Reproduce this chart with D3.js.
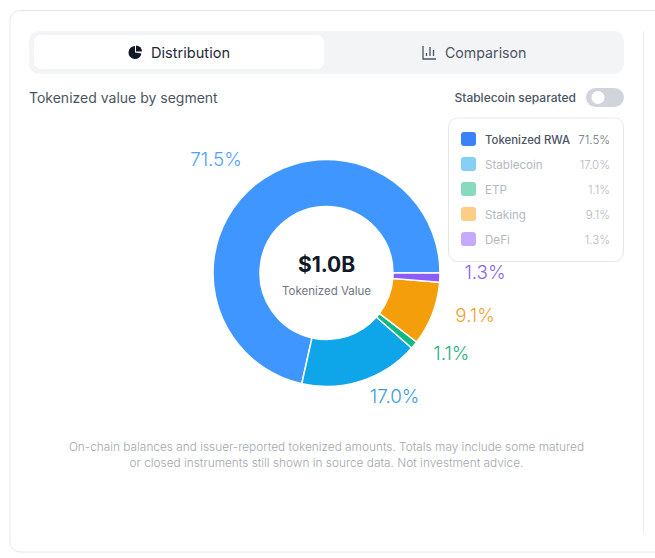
<!DOCTYPE html>
<html>
<head>
<meta charset="utf-8">
<script src="https://cdn.jsdelivr.net/npm/d3@7"></script>
<style>
  html, body { margin: 0; padding: 0; background: #fff; }
  svg { display: block; font-family: Inter, sans-serif; }
</style>
</head>
<body>
<svg id="chart" width="655" height="558"></svg>
<script>
const segments = ['Tokenized RWA', 'Stablecoin', 'ETP', 'Staking', 'DeFi'];
const shares = [71.5, 17.0, 1.1, 9.1, 1.3];
const sliceColors = ['#4096ff', '#0ea5e9', '#10b981', '#f59e0b', '#8b5cf6'];
const labelColors = ['#4f9ffb', '#3a9bd8', '#25b184', '#f0a233', '#8b63ee'];
const swatchColors = ['#3b82f6', '#85d0f4', '#87dabd', '#fbcd85', '#c5aafa'];
const footnote = [
  'On-chain balances and issuer-reported tokenized amounts. Totals may include some matured',
  'or closed instruments still shown in source data. Not investment advice.'
];

const svg = d3.select('#chart');
const fmt = d => d.toFixed(1) + '%';

// Page frame
svg.append('rect').attr('x', 10).attr('y', 10.5).attr('width', 700).attr('height', 541.5)
  .attr('rx', 10).attr('fill', '#fff').attr('stroke', '#e7e8ea');
svg.append('line').attr('x1', 643.5).attr('x2', 643.5).attr('y1', 31).attr('y2', 534)
  .attr('stroke', '#eceef0');

// Tabs
svg.append('rect').attr('x', 29).attr('y', 31).attr('width', 595).attr('height', 43)
  .attr('rx', 10).attr('fill', '#f3f4f6');
svg.append('rect').attr('x', 34).attr('y', 35).attr('width', 290).attr('height', 34)
  .attr('rx', 7).attr('fill', '#fff');

// Pie tab icon
const iconArc = d3.arc();
const pieIcon = svg.append('g').attr('transform', 'translate(135,52.5)').attr('fill', '#111827');
pieIcon.append('path').attr('d', iconArc({ innerRadius: 0, outerRadius: 6.5, startAngle: Math.PI / 2 + 0.15, endAngle: 2 * Math.PI }));
pieIcon.append('path').attr('transform', 'translate(1,-1)')
  .attr('d', iconArc({ innerRadius: 0, outerRadius: 6, startAngle: 0, endAngle: Math.PI / 2 }));
svg.append('text').attr('x', 151).attr('y', 58).attr('font-size', 14.6).attr('fill', '#1f2937')
  .text('Distribution');

// Bar tab icon
const barIcon = svg.append('g').attr('stroke', '#4b5563').attr('stroke-width', 1.3).attr('fill', 'none');
barIcon.append('path').attr('d', 'M423,46V59H436');
barIcon.append('path').attr('d', 'M426.5,56V53M430,56V47M433.5,56V50');
svg.append('text').attr('x', 445).attr('y', 58).attr('font-size', 14.2).attr('fill', '#4b5563')
  .text('Comparison');

// Title row
svg.append('text').attr('x', 29).attr('y', 103).attr('font-size', 14).attr('fill', '#4b5563')
  .text('Tokenized value by segment');
svg.append('text').attr('x', 576).attr('y', 102).attr('font-size', 12).attr('font-weight', 500)
  .attr('text-anchor', 'end').attr('fill', '#4b5563').text('Stablecoin separated');
svg.append('rect').attr('x', 586).attr('y', 88).attr('width', 38).attr('height', 19)
  .attr('rx', 9.5).attr('fill', '#d1d5db');
svg.append('circle').attr('cx', 598).attr('cy', 97.5).attr('r', 6.5).attr('fill', '#fff');

// Donut
const cx = 326.5, cy = 273, outerR = 113.5, innerR = 66.5, labelR = 137;
const pie = d3.pie().sort(null).startAngle(Math.PI / 2).endAngle(Math.PI / 2 - 2 * Math.PI);
const arc = d3.arc().innerRadius(innerR).outerRadius(outerR);
const arcs = pie(shares);
const donut = svg.append('g').attr('transform', `translate(${cx},${cy})`);

donut.selectAll('path').data(arcs).join('path')
  .attr('d', arc)
  .attr('fill', (d, i) => sliceColors[i])
  .attr('stroke', '#fff')
  .attr('stroke-width', 1.5);

donut.selectAll('.slice-label').data(arcs).join('text')
  .attr('class', 'slice-label')
  .each(function (d, i) {
    const mid = (d.startAngle + d.endAngle) / 2;
    const sx = Math.sin(mid) * labelR;
    const sy = -Math.cos(mid) * labelR;
    d3.select(this)
      .attr('x', sx)
      .attr('y', sy)
      .attr('dx', 1)
      .attr('text-anchor', sx < 0 ? 'end' : 'start')
      .attr('fill', labelColors[i])
      .text(fmt(shares[i]));
  })
  .attr('font-size', 18.8)
  .attr('font-weight', 300);

donut.append('text').attr('y', -1).attr('text-anchor', 'middle').attr('font-size', 21)
  .attr('font-weight', 700).attr('fill', '#111827').text('$1.0B');
donut.append('text').attr('y', 22).attr('text-anchor', 'middle').attr('font-size', 11.5)
  .attr('fill', '#71767f').text('Tokenized Value');

// Legend
svg.append('rect').attr('x', 448.5).attr('y', 118).attr('width', 175).attr('height', 143.5)
  .attr('rx', 9).attr('fill', '#fff').attr('stroke', '#e5e7eb');
const rowY = d3.scalePoint().domain(segments).range([139, 239]);
const rows = svg.selectAll('.legend-row').data(segments).join('g')
  .attr('class', 'legend-row')
  .attr('transform', d => `translate(0,${rowY(d)})`);
rows.append('rect').attr('x', 461).attr('y', -7).attr('width', 15).attr('height', 14)
  .attr('rx', 3).attr('fill', (d, i) => swatchColors[i]);
rows.append('text').attr('x', 485).attr('y', 4.5)
  .attr('font-size', (d, i) => i === 0 ? 11.4 : 11.6)
  .attr('font-weight', (d, i) => i === 0 ? 500 : 400)
  .attr('fill', (d, i) => i === 0 ? '#4b5563' : '#b4b8bf').text(d => d);
rows.append('text').attr('x', 610).attr('y', 4.5).attr('font-size', 11.5).attr('text-anchor', 'end')
  .attr('font-weight', 300)
  .attr('fill', (d, i) => i === 0 ? '#6b7280' : '#b4b8bf').text((d, i) => fmt(shares[i]));

// Footnote
svg.selectAll('.footnote').data(footnote).join('text')
  .attr('class', 'footnote')
  .attr('x', 326.5).attr('y', (d, i) => 451 + i * 16)
  .attr('text-anchor', 'middle').attr('font-size', 11.85).attr('font-weight', 300)
  .attr('fill', '#a3a7ae').text(d => d);
</script>
</body>
</html>
